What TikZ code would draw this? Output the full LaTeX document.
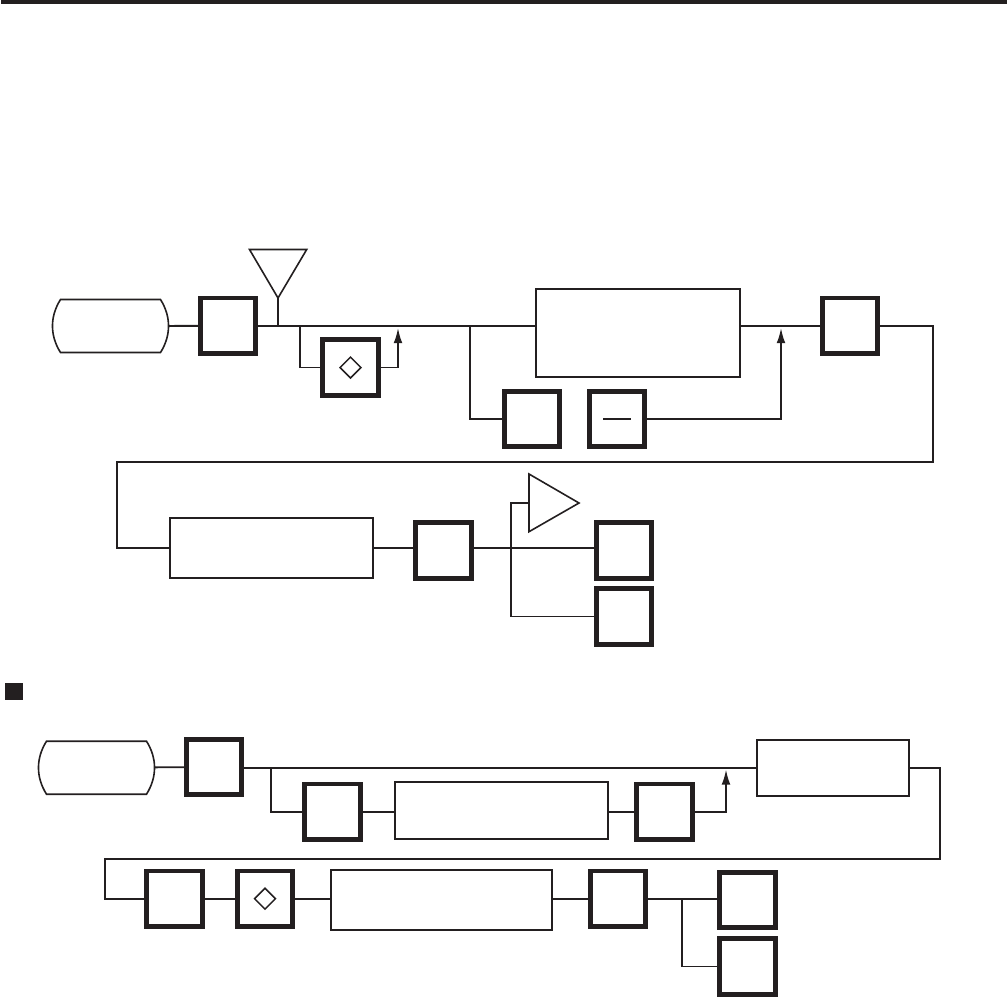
\documentclass[tikz,border=0pt]{standalone}
\usepackage{xcolor}
\usepackage{tikz}
\usetikzlibrary{arrows.meta,shapes.geometric,calc}
\definecolor{ink}{HTML}{231F20}
\tikzset{
  wire/.style={draw=ink,line width=1.8pt,miter limit=10},
  wiretip/.style={wire,-{Latex[length=15pt,width=8.7pt]}},
  heavybox/.style={draw=ink,line width=4.8pt,minimum size=55.6pt,inner sep=0pt,outer sep=0pt},
  lightbox/.style={draw=ink,line width=2pt,inner sep=0pt,outer sep=0pt},
  capbox/.style={minimum width=117pt,minimum height=53pt,inner sep=0pt,outer sep=0pt},
  diam/.style={draw=ink,line width=1.5pt,diamond,minimum size=21.5pt,inner sep=0pt},
}
\newcommand{\capsule}[3]{%
  \node[capbox] (#1) at (#2,#3) {};
  \draw[wire,line width=1.6pt] ($(#1.north west)+(8.5,0)$) -- ($(#1.north east)+(-8.5,0)$)
    .. controls +(10.7,17) and +(10.7,-17) .. ($(#1.south east)+(-8.5,0)$)
    -- ($(#1.south west)+(8.5,0)$)
    .. controls +(-10.7,-17) and +(-10.7,17) .. cycle;
}
\newcommand{\dashbar}[1]{\draw[wire] ($(#1)+(-14,0)$) -- ($(#1)+(14,0)$);}

\begin{document}
\begin{tikzpicture}[x=1pt,y=-1pt]
\useasboundingbox (0,0) rectangle (1007,997);
\fill[ink] (1,0) rectangle (1007,4);
% first chain
\capsule{capA}{110.5}{326}
\node[heavybox] (boxA) at (228,325.8) {};
\node[heavybox] (boxB) at (350.5,367.5) {};
\node[diam] (diaA) at (350.5,367.5) {};
\node[lightbox,minimum width=204pt,minimum height=88pt] (bigA) at (638,333) {};
\node[heavybox] (boxC) at (532,419) {};
\node[heavybox] (boxD) at (617,419) {};
\dashbar{boxD}
\node[heavybox] (boxE) at (850,325.8) {};
\node[lightbox,minimum width=203pt,minimum height=60pt] (bigB) at (271.5,548) {};
\node[heavybox] (boxF) at (443.5,550.5) {};
\node[heavybox] (boxG) at (624,550.3) {};
\node[heavybox] (boxH) at (624,616.5) {};
\draw[wire,line width=1.6pt] (249.5,249.5) -- (306.7,249.5) -- (278,298) coordinate (antA) -- cycle;
\draw[wire,line width=1.6pt] (529,474) -- (579,503) -- (529,531.7) -- cycle;
\coordinate (ampIn) at (529,503);
\coordinate (tapA) at (300,325.8);
\coordinate (tapB) at (470,325.8);
\coordinate (tipA) at (398,328);
\coordinate (tipB) at (781,328);
\coordinate (runA) at (933,462);
\coordinate (runB) at (117,462);
\coordinate (tapC) at (511,547.8);

\draw[wire] (capA) -- (boxA);
\draw[wire] (boxA) -- (bigA.west |- boxA);
\draw[wire] (antA) -- (antA |- boxA);
\draw[wire] (tapA) |- (boxB);
\draw[wiretip] (boxB) -| (tipA);
\draw[wire] (tapB) |- (boxC);
\draw[wire] (bigA.east |- boxE) -- (boxE);
\draw[wiretip] (boxD) -| (tipB);
\draw[wire] (boxE) -| (runA) -- (runB) |- (bigB);
\draw[wire] (bigB) -- (boxF.west |- bigB);
\draw[wire] (boxF.east |- tapC) -- (boxG.west |- tapC);
\draw[wire] (ampIn) -| (tapC) |- (boxH);
% second chain
\fill[ink] (5,683) rectangle (23,700);
\capsule{capB}{96.5}{767.7}
\node[heavybox] (boxJ) at (214,767) {};
\node[lightbox,minimum width=152pt,minimum height=55.7pt] (bigC) at (833,767.8) {};
\node[heavybox] (boxK) at (332.5,811.8) {};
\node[lightbox,minimum width=213.5pt,minimum height=57pt] (bigD) at (501.7,810.5) {};
\node[heavybox] (boxL) at (664.5,811.8) {};
\node[heavybox] (boxM) at (174.5,898.7) {};
\node[heavybox] (boxN) at (265,898.7) {};
\node[diam] (diaB) at (265,898.7) {};
\node[lightbox,minimum width=221pt,minimum height=60pt] (bigE) at (441.5,900) {};
\node[heavybox] (boxP) at (618,898.7) {};
\node[heavybox] (boxQ) at (747.5,900) {};
\node[heavybox] (boxR) at (747.5,966.5) {};
\coordinate (tapD) at (271,767.8);
\coordinate (tipC) at (726,769.5);
\coordinate (runC) at (940,859);
\coordinate (runD) at (105,859);
\coordinate (tapE) at (681.7,898.7);

\draw[wire] (capB) -- (boxJ);
\draw[wire] (boxJ.east |- bigC) -- (bigC);
\draw[wire] (tapD) |- (boxK);
\draw[wire] (boxK) -- (bigD.west |- boxK);
\draw[wire] (bigD.east |- boxL) -- (boxL);
\draw[wiretip] (boxL) -| (tipC);
\draw[wire] (bigC) -| (runC) -- (runD) |- (boxM);
\draw[wire] (boxM) -- (boxN);
\draw[wire] (boxN) -- (bigE.west |- boxN);
\draw[wire] (bigE.east |- boxP) -- (boxP);
\draw[wire] (boxP) -- (boxQ.west |- boxP);
\draw[wire] (tapE) |- (boxR);
\end{tikzpicture}
\end{document}
